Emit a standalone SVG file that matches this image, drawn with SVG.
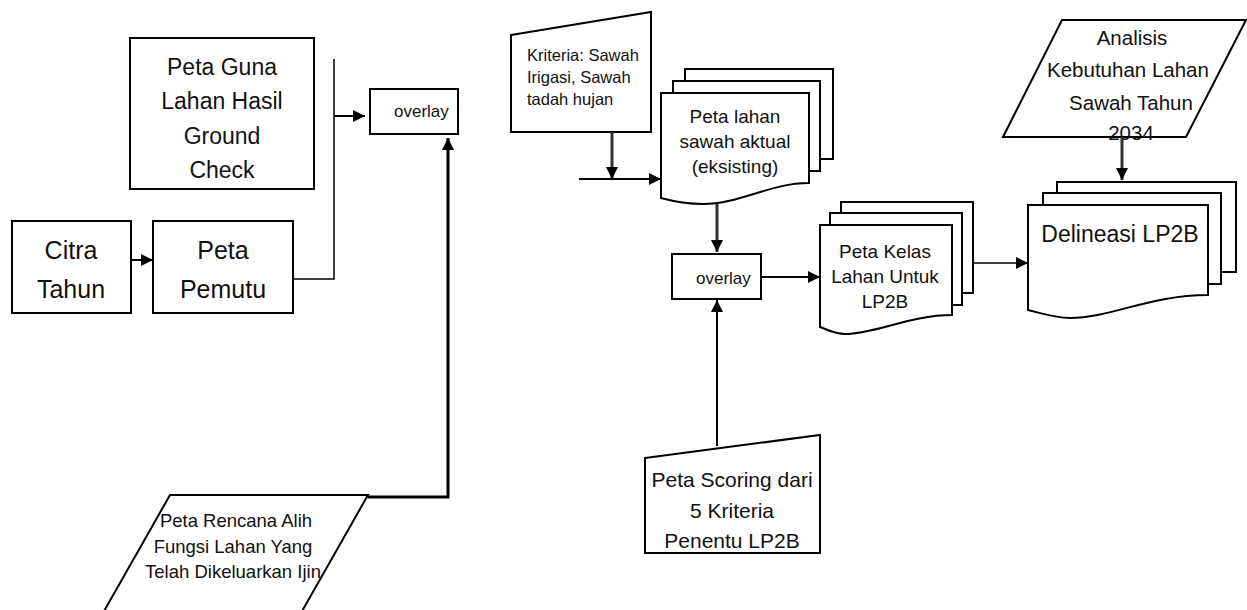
<svg xmlns="http://www.w3.org/2000/svg" width="1247" height="610" viewBox="0 0 1247 610">
  <style>
    .shape { fill: #ffffff; stroke: #000000; stroke-width: 2; }
    .txt { font-family: "Liberation Sans", Arial, sans-serif; fill: #111111; }
    .mid { text-anchor: middle; }
    .conn { fill: none; stroke: #000000; stroke-width: 2; }
    .thick { stroke-width: 3; }
    .soft { stroke: #333333; stroke-width: 3; }
    .thin { stroke-width: 1.5; }
  </style>
  <defs>
    <marker id="arrow" markerUnits="userSpaceOnUse" markerWidth="13" markerHeight="12" refX="12" refY="6" orient="auto">
      <path d="M0,0 L12,6 L0,12 z" fill="#000000"/>
    </marker>
  </defs>

  <rect width="1247" height="610" fill="#ffffff"/>

  <!-- left branch -->
  <g id="peta-guna-lahan">
    <rect class="shape" x="130" y="38" width="184" height="151"/>
    <text class="txt mid" font-size="23" x="222" y="75">Peta Guna</text>
    <text class="txt mid" font-size="23" x="222" y="109">Lahan Hasil</text>
    <text class="txt mid" font-size="23" x="222" y="144">Ground</text>
    <text class="txt mid" font-size="23" x="222" y="178">Check</text>
  </g>

  <g id="citra-tahun">
    <rect class="shape" x="12" y="221" width="119" height="92"/>
    <text class="txt mid" font-size="25" x="71" y="259">Citra</text>
    <text class="txt mid" font-size="25" x="71" y="298">Tahun</text>
  </g>

  <g id="peta-pemutu">
    <rect class="shape" x="153" y="221" width="140" height="92"/>
    <text class="txt mid" font-size="25" x="223" y="259">Peta</text>
    <text class="txt mid" font-size="25" x="223" y="298">Pemutu</text>
  </g>

  <g id="overlay-1">
    <rect class="shape" x="370" y="89" width="88" height="45"/>
    <text class="txt" font-size="17" x="394" y="117">overlay</text>
  </g>

  <g id="peta-rencana-alih-fungsi">
    <polygon class="shape" points="170,495 368,495 297,620 99,620"/>
    <text class="txt mid" font-size="18.5" x="236" y="527">Peta Rencana Alih</text>
    <text class="txt mid" font-size="18.5" x="233" y="553">Fungsi Lahan Yang</text>
    <text class="txt mid" font-size="18.5" x="233" y="578">Telah Dikeluarkan Ijin</text>
  </g>

  <!-- right branch -->
  <g id="kriteria-sawah">
    <polygon class="shape" points="511,35 651,12 651,132 511,132"/>
    <text class="txt" font-size="16.5" x="527" y="61">Kriteria: Sawah</text>
    <text class="txt" font-size="16.5" x="527" y="83">Irigasi, Sawah</text>
    <text class="txt" font-size="16.5" x="527" y="105">tadah hujan</text>
  </g>

  <g id="peta-lahan-sawah-aktual">
    <rect class="shape" x="685" y="69" width="148" height="90"/>
    <rect class="shape" x="673" y="81" width="147" height="90"/>
    <path class="shape" d="M661,93 H809 V183 C770,183 740,204 703,204 C685,204 672,201 661,198 Z"/>
    <text class="txt mid" font-size="19" x="735" y="123">Peta lahan</text>
    <text class="txt mid" font-size="19" x="735" y="148">sawah aktual</text>
    <text class="txt mid" font-size="19" x="735" y="173">(eksisting)</text>
  </g>

  <g id="overlay-2">
    <rect class="shape" x="672" y="254" width="89" height="45"/>
    <text class="txt" font-size="17" x="696" y="284">overlay</text>
  </g>

  <g id="peta-scoring">
    <polygon class="shape" points="645,458 820,435 820,553 645,553"/>
    <text class="txt mid" font-size="21" x="732" y="487">Peta Scoring dari</text>
    <text class="txt mid" font-size="21" x="732" y="518">5 Kriteria</text>
    <text class="txt mid" font-size="21" x="732" y="548">Penentu LP2B</text>
  </g>

  <g id="peta-kelas-lahan">
    <rect class="shape" x="841" y="202" width="132" height="91"/>
    <rect class="shape" x="830" y="213" width="132" height="92"/>
    <path class="shape" d="M820,225 H952 V315 C910,315 875,334 845,334 C835,334 828,330 820,327 Z"/>
    <text class="txt mid" font-size="19" x="885" y="258">Peta Kelas</text>
    <text class="txt mid" font-size="19" x="885" y="283">Lahan Untuk</text>
    <text class="txt mid" font-size="19" x="885" y="308">LP2B</text>
  </g>

  <g id="analisis-kebutuhan">
    <polygon class="shape" points="1062,20 1246,20 1186,137 1003,137"/>
    <text class="txt mid" font-size="20.5" x="1132" y="45">Analisis</text>
    <text class="txt mid" font-size="20.5" x="1128" y="77">Kebutuhan Lahan</text>
    <text class="txt mid" font-size="20.5" x="1131" y="110">Sawah Tahun</text>
    <text class="txt mid" font-size="20.5" x="1131" y="140">2034</text>
  </g>

  <g id="delineasi-lp2b">
    <rect class="shape" x="1057" y="182" width="179" height="90"/>
    <rect class="shape" x="1043" y="193" width="178" height="91"/>
    <path class="shape" d="M1028,205 H1208 V295 C1150,295 1110,318 1070,318 C1055,318 1040,313 1028,310 Z"/>
    <text class="txt mid" font-size="23" x="1120" y="242">Delineasi LP2B</text>
  </g>

  <!-- connectors -->
  <g id="connectors">
    <line class="conn" x1="131" y1="260" x2="153" y2="260" marker-end="url(#arrow)"/>
    <polyline class="conn thin" points="293,279 334,279 334,59"/>
    <line class="conn" x1="334" y1="116" x2="365" y2="116" marker-end="url(#arrow)"/>
    <polyline class="conn thick" points="368,497 448,497 448,138" marker-end="url(#arrow)"/>
    <line class="conn soft" x1="612" y1="132" x2="612" y2="179" marker-end="url(#arrow)"/>
    <line class="conn" x1="579" y1="179" x2="661" y2="179" marker-end="url(#arrow)"/>
    <line class="conn soft" x1="717" y1="204" x2="717" y2="252" marker-end="url(#arrow)"/>
    <line class="conn" x1="717" y1="446" x2="717" y2="300" marker-end="url(#arrow)"/>
    <line class="conn" x1="761" y1="277" x2="820" y2="277" marker-end="url(#arrow)"/>
    <line class="conn thin" x1="973" y1="263" x2="1028" y2="263" marker-end="url(#arrow)"/>
    <line class="conn soft" x1="1122" y1="137" x2="1122" y2="180" marker-end="url(#arrow)"/>
  </g>
</svg>
